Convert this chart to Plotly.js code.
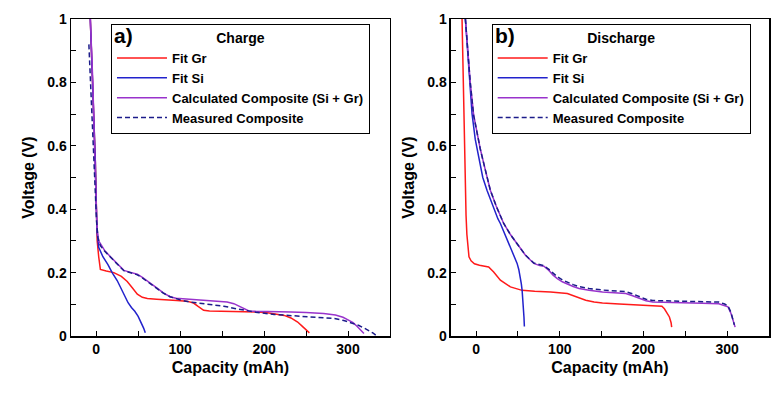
<!DOCTYPE html>
<html>
<head>
<meta charset="utf-8">
<script src="https://cdn.plot.ly/plotly-3.0.1.min.js"></script>
<style>
html,body{margin:0;padding:0;background:#fff;}
#chart{width:780px;height:393px;}
</style>
</head>
<body>
<div id="chart"></div>
<script>
// ---------- Panel a) Charge ----------
var grA_x = [-7, -5.5, -4, -2.5, -1, 0.3, 1.2, 3, 5, 12, 21, 30, 37, 43, 49, 55, 61, 72, 84, 96, 108, 116, 121, 125, 128, 135, 164, 192, 204, 216, 224, 232, 240, 245, 250, 254];
var grA_v = [1.0, 0.9, 0.8, 0.68, 0.55, 0.4, 0.3, 0.25, 0.21, 0.205, 0.2, 0.188, 0.172, 0.152, 0.132, 0.122, 0.118, 0.116, 0.115, 0.112, 0.11, 0.104, 0.094, 0.085, 0.081, 0.079, 0.078, 0.076, 0.073, 0.069, 0.065, 0.057, 0.044, 0.032, 0.02, 0.01];

var siA_x = [-7, -5.5, -4, -2.5, -1, 0, 1, 3, 8, 14, 19, 25, 29, 33, 38, 42, 46, 50, 54, 56.5, 58.5];
var siA_v = [1.0, 0.9, 0.8, 0.68, 0.55, 0.42, 0.33, 0.28, 0.25, 0.225, 0.2, 0.175, 0.155, 0.13, 0.105, 0.09, 0.078, 0.062, 0.042, 0.025, 0.01];

var compA_x = [-7, -5.5, -4, -2, 0, 1, 3, 6, 10, 17, 25, 33, 42, 49, 55, 61, 67, 73, 80, 88, 95, 100, 112, 124, 136, 148, 156, 164, 170, 174, 178, 182, 190, 200, 215, 232, 250, 271, 285, 294, 300, 306, 311, 316, 319];
var compA_v = [1.0, 0.9, 0.8, 0.6, 0.44, 0.34, 0.3, 0.285, 0.27, 0.25, 0.228, 0.207, 0.2, 0.195, 0.185, 0.174, 0.162, 0.15, 0.136, 0.124, 0.119, 0.118, 0.115, 0.114, 0.112, 0.11, 0.107, 0.102, 0.094, 0.087, 0.082, 0.079, 0.078, 0.078, 0.077, 0.076, 0.074, 0.071, 0.066, 0.059, 0.051, 0.042, 0.03, 0.018, 0.008];

var measA_x = [-8.7, -6, -3, -1, 0.5, 2, 5, 10, 17, 25, 33, 42, 49, 55, 61, 67, 73, 80, 88, 95, 100, 112, 124, 140, 152, 165, 176, 190, 212, 232, 252, 270, 284, 295, 304, 313, 320, 326, 330, 333];
var measA_v = [0.92, 0.75, 0.58, 0.45, 0.36, 0.31, 0.285, 0.268, 0.248, 0.227, 0.206, 0.199, 0.193, 0.183, 0.172, 0.16, 0.148, 0.135, 0.124, 0.118, 0.114, 0.107, 0.103, 0.098, 0.094, 0.087, 0.081, 0.075, 0.068, 0.065, 0.062, 0.059, 0.055, 0.049, 0.041, 0.033, 0.024, 0.016, 0.009, 0.003];

// ---------- Panel b) Discharge ----------
var grB_x = [-16.8, -15.5, -14.2, -13, -12, -11, -10, -8.5, -6, -2, 4, 10, 15, 21, 29, 41, 55, 70, 89, 109, 117, 124.6, 131, 141, 151, 171, 191, 215, 222, 225, 228, 231, 233, 233.7];
var grB_v = [1.0, 0.8, 0.6, 0.45, 0.38, 0.32, 0.28, 0.25, 0.237, 0.228, 0.223, 0.221, 0.218, 0.202, 0.176, 0.155, 0.144, 0.141, 0.139, 0.134, 0.127, 0.118, 0.113, 0.107, 0.104, 0.101, 0.099, 0.097, 0.094, 0.086, 0.075, 0.06, 0.042, 0.028];

var siB_x = [-12.8, -10, -7.5, -4.8, -1, 4, 8, 13, 20, 26, 29, 33, 37, 41, 45, 49, 51, 53, 54, 55, 55.8, 56.5, 57.2, 57.7];
var siB_v = [1.0, 0.9, 0.8, 0.7, 0.62, 0.55, 0.5, 0.46, 0.41, 0.37, 0.355, 0.33, 0.305, 0.281, 0.255, 0.229, 0.21, 0.186, 0.165, 0.144, 0.12, 0.09, 0.06, 0.03];

var compB_x = [-12.8, -10, -7, -2.9, 1, 5, 10, 17, 24, 33, 41, 49, 59, 69, 76, 81, 87, 92, 97, 103, 109, 116, 123, 135, 151, 165, 179, 187, 195, 203, 211, 230, 251, 270, 290, 297, 301, 304.6, 307, 308.6, 309.5];
var compB_v = [1.0, 0.9, 0.8, 0.697, 0.64, 0.59, 0.535, 0.46, 0.41, 0.355, 0.32, 0.292, 0.255, 0.229, 0.222, 0.22, 0.207, 0.192, 0.181, 0.171, 0.163, 0.156, 0.15, 0.144, 0.139, 0.137, 0.134, 0.127, 0.118, 0.111, 0.107, 0.105, 0.104, 0.103, 0.102, 0.097, 0.092, 0.071, 0.05, 0.034, 0.028];

var measB_x = [-12.8, -10, -7, -3, 1, 5, 10, 17, 24, 33, 41, 49, 59, 69, 76, 81, 87, 92, 97, 103, 109, 116, 123, 135, 151, 165, 179, 187, 195, 203, 211, 230, 251, 270, 290, 297, 301, 304.6, 307, 308.6];
var measB_v = [1.0, 0.9, 0.8, 0.697, 0.64, 0.59, 0.535, 0.46, 0.41, 0.355, 0.32, 0.292, 0.255, 0.23, 0.224, 0.222, 0.21, 0.197, 0.187, 0.177, 0.169, 0.162, 0.156, 0.15, 0.145, 0.143, 0.14, 0.133, 0.124, 0.116, 0.112, 0.111, 0.109, 0.108, 0.107, 0.101, 0.095, 0.074, 0.052, 0.035];

var seriesNames = ["Fit Gr", "Fit Si", "Calculated Composite (Si + Gr)", "Measured Composite"];
var panelLabels = ["a)", "b)"];
var panelTitles = ["Charge", "Discharge"];
var xTitle = "Capacity (mAh)";
var yTitle = "Voltage (V)";

var colors = ["#ff1a1a", "#2222cc", "#9933cc", "#1c1c8a"];
var FONT = "Liberation Sans, Arial, Helvetica, sans-serif";

function mk(x, y, i, xa, ya, lg) {
  return {
    x: x, y: y, type: "scatter", mode: "lines",
    name: seriesNames[i], xaxis: xa, yaxis: ya, legend: lg,
    line: {color: colors[i], width: 1.5, dash: i === 3 ? "5px,3px" : "solid"},
    hoverinfo: "skip"
  };
}

var data = [
  mk(grA_x, grA_v, 0, "x", "y", "legend"),
  mk(siA_x, siA_v, 1, "x", "y", "legend"),
  mk(compA_x, compA_v, 2, "x", "y", "legend"),
  mk(measA_x, measA_v, 3, "x", "y", "legend"),
  mk(grB_x, grB_v, 0, "x2", "y2", "legend2"),
  mk(siB_x, siB_v, 1, "x2", "y2", "legend2"),
  mk(compB_x, compB_v, 2, "x2", "y2", "legend2"),
  mk(measB_x, measB_v, 3, "x2", "y2", "legend2")
];

function xax(domain, anchor) {
  return {
    domain: domain, anchor: anchor, range: [-30, 350],
    dtick: 100, tick0: 0, ticks: "inside", ticklen: 5, tickwidth: 1, tickcolor: "#000",
    minor: {dtick: 50, ticks: "inside", ticklen: 5, tickwidth: 1, tickcolor: "#000"},
    showline: true, linecolor: "#000", linewidth: 1.5, mirror: true,
    showgrid: false, zeroline: false, automargin: false,
    tickfont: {family: FONT, size: 14, color: "#000", weight: "bold"},
    title: {text: xTitle, font: {family: FONT, size: 16, color: "#000", weight: "bold"}, standoff: 5}
  };
}
function yax(anchor) {
  return {
    domain: [0, 1], anchor: anchor, range: [0, 1],
    dtick: 0.2, tick0: 0, ticks: "inside", ticklen: 5, tickwidth: 1, tickcolor: "#000",
    minor: {dtick: 0.1, ticks: "inside", ticklen: 5, tickwidth: 1, tickcolor: "#000"},
    showline: true, linecolor: "#000", linewidth: 1.5, mirror: true,
    showgrid: false, zeroline: false, automargin: false,
    tickfont: {family: FONT, size: 14, color: "#000", weight: "bold"},
    title: {text: yTitle, font: {family: FONT, size: 16, color: "#000", weight: "bold"}, standoff: 8}
  };
}
function leg(xpos, title) {
  return {
    x: xpos, y: 0.985, xanchor: "left", yanchor: "top",
    bgcolor: "#fff", bordercolor: "#000", borderwidth: 1,
    itemwidth: 50, tracegroupgap: 0,
    font: {family: FONT, size: 13, color: "#000", weight: "bold"},
    title: {text: title, side: "top center", font: {family: FONT, size: 14, color: "#000", weight: "bold"}}
  };
}

var layout = {
  width: 780, height: 393,
  margin: {l: 71, r: 11, t: 19, b: 57},
  paper_bgcolor: "#fff", plot_bgcolor: "#fff",
  font: {family: FONT, color: "#000"},
  xaxis: xax([0, 0.457], "y"),
  yaxis: yax("x"),
  xaxis2: xax([0.5444, 1.0], "y2"),
  yaxis2: yax("x2"),
  legend: leg(0.0573, panelTitles[0]),
  legend2: leg(0.6027, panelTitles[1]),
  showlegend: true,
  annotations: [
    {text: panelLabels[0], xref: "paper", yref: "paper", x: 0.0585, y: 0.99, xanchor: "left", yanchor: "top",
     showarrow: false, font: {family: FONT, size: 21, color: "#000", weight: "bold"}},
    {text: panelLabels[1], xref: "paper", yref: "paper", x: 0.604, y: 0.99, xanchor: "left", yanchor: "top",
     showarrow: false, font: {family: FONT, size: 21, color: "#000", weight: "bold"}}
  ]
};

Plotly.newPlot("chart", data, layout, {staticPlot: true, displayModeBar: false});
</script>
</body>
</html>
